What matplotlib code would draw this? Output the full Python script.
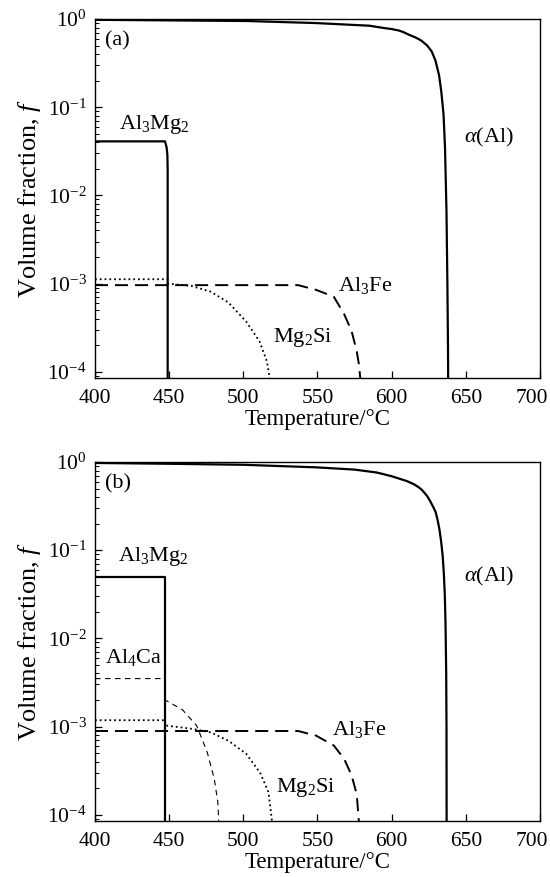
import matplotlib
matplotlib.use("Agg")
import matplotlib.pyplot as plt
from matplotlib.transforms import ScaledTranslation

plt.rcParams.update({
    "font.family": "Liberation Serif",
    "mathtext.fontset": "custom",
    "mathtext.rm": "Liberation Serif",
    "mathtext.it": "Liberation Serif:italic",
    "font.size": 16,
})

# --- panel (a) ---
a_al_T = [400, 450, 502, 549, 585, 595, 600, 605, 608, 612, 616, 620, 624, 627,
          629.5, 632, 633.5, 635, 636, 637, 637.6, 638, 638.2]
a_al_f = [0.98, 0.965, 0.95, 0.90, 0.84, 0.79, 0.77, 0.74, 0.71, 0.66, 0.62, 0.57, 0.50, 0.43,
          0.34, 0.23, 0.15, 0.083, 0.035, 0.0065, 0.001, 2e-4, 5e-5]

a_mg_T = [400, 447.2, 448.3, 448.8, 449, 449]
a_mg_f = [0.041, 0.041, 0.035, 0.029, 0.02, 5e-5]

a_si_T = [400, 449, 449, 465, 478, 490, 502, 511, 516, 518]
a_si_f = [0.00112, 0.00112, 0.00100, 9.4e-4, 8.1e-4, 6.1e-4, 3.7e-4, 2.2e-4, 1.3e-4, 8e-5]

a_fe_T = [400, 537, 549, 561, 568, 573, 576.5, 578, 579]
a_fe_f = [9.6e-4, 9.6e-4, 8.5e-4, 7.1e-4, 4.5e-4, 2.9e-4, 1.7e-4, 1.2e-4, 8e-5]

# --- panel (b) ---
b_al_T = [400, 450, 500, 549, 575, 590, 600, 610, 615, 618, 620, 622, 624, 626, 628,
          629.7, 631, 632.3, 633.4, 634.4, 635.2, 635.9, 636.4, 636.8, 637, 637.1]
b_al_f = [0.975, 0.955, 0.93, 0.87, 0.82, 0.76, 0.69, 0.61, 0.56, 0.52, 0.49, 0.45, 0.41, 0.36, 0.31,
          0.27, 0.22, 0.17, 0.125, 0.087, 0.055, 0.03, 0.013, 0.004, 0.001, 5e-5]

b_mg_T = [400, 447.3, 447.3]
b_mg_f = [0.050, 0.050, 5e-5]

b_ca_T = [400, 447.3, 447.3, 459, 468.6, 475.7, 480.4, 482.8, 483.5]
b_ca_f = [0.0035, 0.0035, 0.0020, 0.00155, 0.00102, 5.1e-4, 2.57e-4, 1.4e-4, 8e-5]

b_si_T = [400, 447.3, 447.3, 466, 478, 490, 502, 511.3, 517, 519.5]
b_si_f = [0.00118, 0.00118, 0.00103, 9.4e-4, 8.6e-4, 6.9e-4, 4.9e-4, 3.0e-4, 1.8e-4, 8e-5]

b_fe_T = [400, 537, 549, 561, 568, 573, 576.5, 578]
b_fe_f = [8.9e-4, 8.9e-4, 7.9e-4, 6.1e-4, 4.3e-4, 2.8e-4, 1.7e-4, 8e-5]

fig = plt.figure(figsize=(5.5, 8.77), dpi=100)
ax_a = fig.add_axes([0.1727, 0.569, 0.809, 0.4093])
ax_b = fig.add_axes([0.1727, 0.0639, 0.809, 0.4093])

LONG_DASH = (6.7, 3.6)
SHORT_DASH = (5, 4)


def style(ax, tag):
    ax.set_yscale("log")
    ax.set_xlim(400, 700)
    ax.set_ylim(8.5e-5, 1.0)
    ax.set_xticks(range(400, 701, 50))
    ax.tick_params(which="both", direction="in", top=False, right=False)
    ax.tick_params(which="major", length=5, width=0.9, pad=6, labelsize=15.5)
    ax.tick_params(axis="x", which="major", pad=8)
    ax.tick_params(which="minor", length=3, width=0.7)
    ax.tick_params(axis="x", which="minor", bottom=False)
    for s in ax.spines.values():
        s.set_linewidth(1.0)
    ax.set_xlabel("Temperature/°C", fontsize=16.5, labelpad=1)
    ax.set_ylabel("Volume fraction, $f$", fontsize=19, labelpad=3)
    ax.text(0.022, 0.94, tag, transform=ax.transAxes, va="center", ha="left")
    # last x label sits at the figure edge: nudge it in a little
    last = ax.xaxis.get_major_ticks()[-1].label1
    last.set_transform(last.get_transform()
                       + ScaledTranslation(-6 / 72, 0, fig.dpi_scale_trans))


# (a)
ax_a.plot(a_al_T, a_al_f, color="black", lw=1.6)
ax_a.plot(a_mg_T, a_mg_f, color="black", lw=1.6)
ax_a.plot(a_si_T, a_si_f, color="black", lw=1.3, linestyle=":")
ax_a.plot(a_fe_T, a_fe_f, color="black", lw=1.4, linestyle="--", dashes=LONG_DASH)
style(ax_a, "(a)")
ax_a.text(0.055, 0.705, r"Al$_3$Mg$_2$", transform=ax_a.transAxes, va="center")
ax_a.text(0.829, 0.671, r"$\alpha$(Al)", transform=ax_a.transAxes, va="center")
ax_a.text(0.546, 0.259, r"Al$_3$Fe", transform=ax_a.transAxes, va="center")
ax_a.text(0.40, 0.114, r"Mg$_2$Si", transform=ax_a.transAxes, va="center")

# (b)
ax_b.plot(b_al_T, b_al_f, color="black", lw=1.6)
ax_b.plot(b_mg_T, b_mg_f, color="black", lw=1.6)
ax_b.plot(b_ca_T, b_ca_f, color="black", lw=0.8, linestyle="--", dashes=SHORT_DASH)
ax_b.plot(b_si_T, b_si_f, color="black", lw=1.3, linestyle=":")
ax_b.plot(b_fe_T, b_fe_f, color="black", lw=1.4, linestyle="--", dashes=LONG_DASH)
style(ax_b, "(b)")
ax_b.text(0.051, 0.737, r"Al$_3$Mg$_2$", transform=ax_b.transAxes, va="center")
ax_b.text(0.829, 0.681, r"$\alpha$(Al)", transform=ax_b.transAxes, va="center")
ax_b.text(0.022, 0.455, r"Al$_4$Ca", transform=ax_b.transAxes, va="center")
ax_b.text(0.533, 0.256, r"Al$_3$Fe", transform=ax_b.transAxes, va="center")
ax_b.text(0.406, 0.094, r"Mg$_2$Si", transform=ax_b.transAxes, va="center")

fig.savefig("out.png", dpi=100)
